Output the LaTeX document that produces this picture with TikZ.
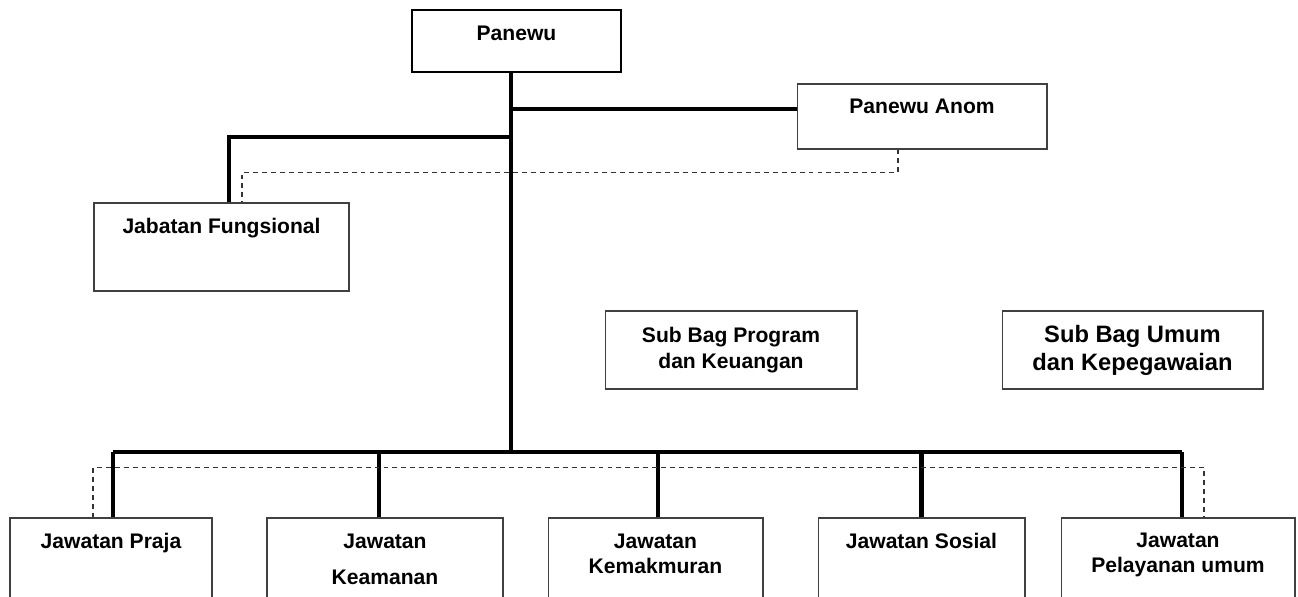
\documentclass[tikz,border=0pt]{standalone}
\usepackage{fontspec}
\setmainfont{Liberation Sans}
\begin{document}
\begin{tikzpicture}[
    x=0.02cm, y=-0.02cm,
    unitbox/.style={draw=black!75, line width=0.6pt, inner sep=0pt},
    headbox/.style={draw=black, line width=1pt, inner sep=0pt},
    lbl/.style={inner sep=0pt, align=center, font=\fontsize{12}{14.4}\selectfont\bfseries},
    lblbig/.style={inner sep=0pt, align=center, font=\fontsize{13.5}{16}\selectfont\bfseries},
    conn/.style={line width=1.9pt},
    drop/.style={line width=2.8pt},
    koord/.style={draw=black!80, line width=0.6pt, dash pattern=on 2.8pt off 2.3pt}
]
\useasboundingbox (0,0) rectangle (1298,596);
\clip (0,0) rectangle (1298,596);

% top level
\node[headbox, minimum width=4.18cm, minimum height=1.24cm] (panewu) at (516.5,41) {};
\node[lbl] (panewu-t) at (516.5,33.5) {Panewu};

\node[unitbox, minimum width=5cm, minimum height=1.3cm] (anom) at (922,116.5) {};
\node[lbl] (anom-t) at (922,106.5) {Panewu Anom};

\node[unitbox, minimum width=5.1cm, minimum height=1.76cm] (fung) at (221.5,247) {};
\node[lbl] (fung-t) at (221.5,228) {Jabatan Fungsional};

% sub bagian
\node[unitbox, lbl, minimum width=5.04cm, minimum height=1.56cm] (prog) at (731,350) {Sub Bag Program\\dan Keuangan};
\node[unitbox, lblbig, minimum width=5.22cm, minimum height=1.56cm] (umum) at (1132.5,350) {Sub Bag Umum\\dan Kepegawaian};

% jawatan
\node[unitbox, minimum width=4.04cm, minimum height=2.44cm] (praja) at (111,579) {};
\node[lbl] (praja-t) at (111,543.5) {Jawatan Praja};
\node[unitbox, minimum width=4.72cm, minimum height=2.44cm] (aman) at (385,579) {};
\node[lbl] (aman-t) at (385,559.5) {Jawatan\\[6pt]Keamanan};
\node[unitbox, minimum width=4.30cm, minimum height=2.44cm] (makmur) at (655.5,579) {};
\node[lbl] (makmur-t) at (655.5,553.5) {Jawatan\\Kemakmuran};
\node[unitbox, minimum width=4.14cm, minimum height=2.44cm] (sosial) at (921.5,579) {};
\node[lbl] (sosial-t) at (921.5,540.5) {Jawatan Sosial};
\node[unitbox, minimum width=4.68cm, minimum height=2.44cm] (layan) at (1178,579) {};
\node[lbl] (layan-t) at (1178,555) {Jawatan\\Pelayanan umum};

% junctions
\coordinate (trunk) at (511,452);
\coordinate (janom) at (511,109);
\coordinate (jfung) at (511,137);
\coordinate (busl)  at (113,452);
\coordinate (busr)  at (1182,452);

% lines
\draw[conn] (panewu.south -| trunk) -- (trunk);
\draw[conn] (janom) -- (janom -| anom.west);
\draw[conn] (jfung) -| ([xshift=0.15cm]fung.north);
\draw[koord] ([xshift=-0.48cm]anom.south) -- ++(0,23) -| ([xshift=0.41cm]fung.north);

\draw[conn] (busl) -- (busr);
\draw[drop] (praja.north -| busl) -- (busl);
\draw[drop] ([xshift=-0.12cm]aman.north) -- ++(0,-66);
\draw[drop] ([xshift=0.05cm]makmur.north) -- ++(0,-66);
\draw[drop] (sosial.north) -- ++(0,-66);
\draw[drop] (layan.north -| busr) -- (busr);
\draw[koord] ([xshift=-0.36cm]praja.north) -- ++(0,-50) -| ([xshift=0.52cm]layan.north);
\end{tikzpicture}
\end{document}
